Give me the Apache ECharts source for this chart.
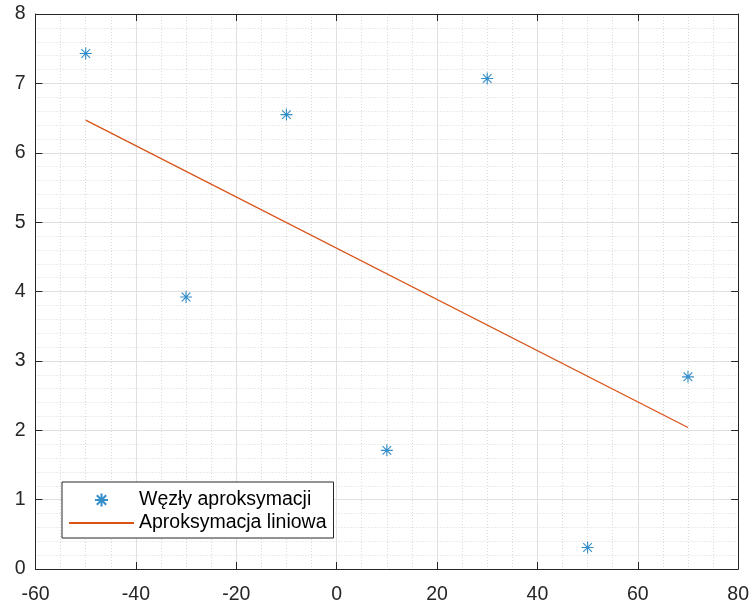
<!DOCTYPE html>
<html>
<head>
<meta charset="utf-8">
<script src="https://cdn.jsdelivr.net/npm/echarts@6/dist/echarts.min.js"></script>
<style>
html,body{margin:0;padding:0;background:#fff;}
#chart{width:752px;height:608px;}
</style>
</head>
<body>
<div id="chart"></div>
<script>
// punkty (węzły)
var nodeX=[-50,-30,-10,10,30,50,70];
var nodeY=[7.43,3.92,6.55,1.71,7.07,0.31,2.77];
// prosta aproksymacji - końce
var lineX=[-50,70];
var lineY=[6.47,2.04];
var seriesNames=['Węzły aproksymacji','Aproksymacja liniowa'];

var axisCol='#262626';
var font='"Liberation Sans", Arial, Helvetica, sans-serif';
var star='path://M0,-1L0,1M-1,0L1,0M-0.72,-0.72L0.72,0.72M-0.72,0.72L0.72,-0.72';

var chart=echarts.init(document.getElementById('chart'));

function boxAxis(pos,min,max,interval,split,labels,margin){
	return {
		type:'value',
		position:pos,
		min:min,
		max:max,
		interval:interval,
		axisLine:{show:true,onZero:false,lineStyle:{color:axisCol,width:1}},
		axisTick:{show:true,inside:true,length:7,lineStyle:{color:axisCol,width:1}},
		minorTick:{show:false,splitNumber:split},
		axisLabel:{show:labels,color:axisCol,fontSize:19.5,fontFamily:font,margin:margin||0},
		splitLine:{show:labels,lineStyle:{color:'#e0e0e0',width:1}},
		minorSplitLine:{show:labels,lineStyle:{color:'#d8d8d8',width:1,type:[1,2]}}
	};
}

var option={
	animation:false,
	backgroundColor:'#fff',
	grid:{left:35.5,right:13,top:14,bottom:39,containLabel:false},
	xAxis:[boxAxis('bottom',-60,80,20,4,true,16),boxAxis('top',-60,80,20,4,false)],
	yAxis:[boxAxis('left',0,8,1,5,true,10),boxAxis('right',0,8,1,5,false)],
	legend:{
		left:62,
		top:482,
		orient:'vertical',
		backgroundColor:'#fff',
		borderColor:axisCol,
		borderWidth:1,
		padding:[8,7,5,6],
		itemWidth:65,
		itemHeight:13,
		itemGap:3,
		textStyle:{color:'#000',fontSize:19.5,lineHeight:20,fontFamily:font},
		data:[
			{name:seriesNames[0]},
			{name:seriesNames[1],itemStyle:{opacity:0}}
		]
	},
	series:[
		{
			name:seriesNames[0],
			type:'scatter',
			symbol:star,
			symbolSize:12,
			symbolKeepAspect:true,
			itemStyle:{color:'#0072BD',borderColor:'#0072BD',borderWidth:1.1},
			data:nodeX.map(function(x,i){return [x,nodeY[i]];}),
			z:5
		},
		{
			name:seriesNames[1],
			type:'line',
			symbol:'none',
			showSymbol:false,
			lineStyle:{color:'#D95319',width:1.3},
			itemStyle:{color:'#D95319'},
			data:lineX.map(function(x,i){return [x,lineY[i]];}),
			z:4
		}
	]
};
chart.setOption(option);
</script>
</body>
</html>
